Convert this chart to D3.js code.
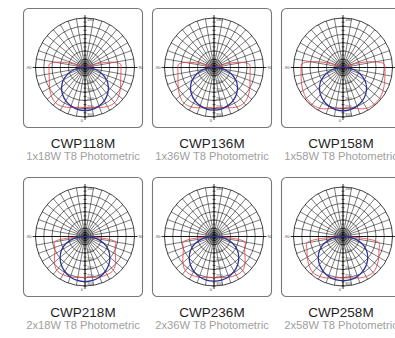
<!DOCTYPE html>
<html>
<head>
<meta charset="utf-8">
<script src="https://cdn.jsdelivr.net/npm/d3@7"></script>
<style>
  body { margin: 0; background: #fff; }
  svg { display: block; }
</style>
</head>
<body>
<svg id="chart" width="395" height="338"></svg>
<script>
// Dados (cd/klm aproximados)
const produtos = ["CWP118M", "CWP136M", "CWP158M", "CWP218M", "CWP236M", "CWP258M"];
const subtitulos = ["1x18W T8 Photometric", "1x36W T8 Photometric", "1x58W T8 Photometric",
                    "2x18W T8 Photometric", "2x36W T8 Photometric", "2x58W T8 Photometric"];
const angulos = [0, 10, 20, 30, 40, 50, 60, 70, 80, 90, 95, 100, 105, 110, 120, 180];
const aneis = [50, 100, 150, 200, 250, 300];

// Plano C0-C180 (vermelho)
const verm118 = [242, 245, 258, 273, 279, 267, 248, 230, 221, 218, 218, 182, 110, 36, 0, 0];
const verm136 = [244, 247, 260, 276, 282, 270, 250, 232, 222, 219, 216, 178, 105, 32, 0, 0];
const verm158 = [245, 250, 266, 285, 292, 290, 280, 268, 258, 254, 250, 200, 120, 40, 0, 0];
const verm218 = [248, 251, 261, 267, 267, 242, 212, 194, 188, 12, 0, 0, 0, 0, 0, 0];
const verm236 = [250, 253, 263, 270, 270, 246, 216, 198, 190, 14, 0, 0, 0, 0, 0, 0];
const verm258 = [250, 255, 268, 280, 284, 270, 250, 232, 222, 20, 0, 0, 0, 0, 0, 0];

// Plano C90-C270 (azul)
const azul118 = [261, 258, 248, 233, 212, 185, 152, 109, 61, 12, 0, 0, 0, 0, 0, 0];
const azul136 = [258, 256, 246, 232, 212, 186, 153, 110, 62, 12, 0, 0, 0, 0, 0, 0];
const azul158 = [262, 259, 249, 234, 213, 186, 152, 109, 61, 12, 0, 0, 0, 0, 0, 0];
const azul218 = [273, 270, 261, 245, 224, 197, 164, 121, 67, 12, 0, 0, 0, 0, 0, 0];
const azul236 = [270, 268, 259, 244, 223, 196, 163, 120, 66, 12, 0, 0, 0, 0, 0, 0];
const azul258 = [268, 266, 257, 242, 222, 196, 163, 120, 66, 12, 0, 0, 0, 0, 0, 0];

const vermelhos = [verm118, verm136, verm158, verm218, verm236, verm258];
const azuis = [azul118, azul136, azul158, azul218, azul236, azul258];

const largura = 395;
const svg = d3.select("#chart");
const passoX = 129, passoY = 169, caixa = 119, x0 = 23, y0 = 8;
const R = 49.5;
const raio = d3.scaleLinear().domain([0, 300]).range([0, R]);
const fonte = "Helvetica, Arial, 'Liberation Sans', sans-serif";

// angulo fotometrico (0 = para baixo) -> angulo do d3 (0 = para cima)
function pontos(valores) {
    const pts = [];
    angulos.forEach((a, i) => pts.push([Math.PI - a * Math.PI / 180, raio(valores[i])]));
    for (let i = angulos.length - 2; i > 0; i--) {
        pts.push([Math.PI + angulos[i] * Math.PI / 180, raio(valores[i])]);
    }
    return pts;
}

const linha = d3.lineRadial()
    .angle(d => d[0])
    .radius(d => d[1])
    .curve(d3.curveCatmullRomClosed.alpha(0.5));

produtos.forEach((nome, i) => {
    const col = i % 3, lin = Math.floor(i / 3);
    const gx = x0 + col * passoX, gy = y0 + lin * passoY;
    const g = svg.append("g").attr("transform", `translate(${gx},${gy})`);

    // Moldura
    g.append("rect")
        .attr("x", 0.5).attr("y", 0.5)
        .attr("width", caixa).attr("height", caixa)
        .attr("rx", 5)
        .attr("fill", "#fff")
        .attr("stroke", "#777")
        .attr("stroke-width", 1.1);

    const cx = 62, cy = 59.5;
    const p = g.append("g").attr("transform", `translate(${cx},${cy})`);

    // Aneis internos (centro denso)
    [R / 24, R / 12, R / 8].forEach(rr => {
        p.append("circle").attr("r", rr)
            .attr("fill", "none").attr("stroke", "#222").attr("stroke-width", 0.5);
    });

    // Aneis principais
    aneis.forEach(v => {
        p.append("circle").attr("r", raio(v))
            .attr("fill", "none").attr("stroke", "#111")
            .attr("stroke-width", v === 300 ? 0.8 : 0.6);
    });

    // Raios a cada 10 graus
    d3.range(0, 360, 10).forEach(a => {
        const t = a * Math.PI / 180;
        p.append("line")
            .attr("x1", 0).attr("y1", 0)
            .attr("x2", R * Math.sin(t)).attr("y2", -R * Math.cos(t))
            .attr("stroke", "#111").attr("stroke-width", 0.55);
    });

    // Eixos e marcas
    p.append("line").attr("x1", -R - 3).attr("x2", R + 3).attr("y1", 0).attr("y2", 0)
        .attr("stroke", "#000").attr("stroke-width", 0.8);
    p.append("line").attr("y1", -R - 3).attr("y2", R + 3).attr("x1", 0).attr("x2", 0)
        .attr("stroke", "#000").attr("stroke-width", 0.8);
    d3.range(25, 301, 25).forEach(v => {
        const d = raio(v);
        [-d, d].forEach(y => {
            p.append("line").attr("x1", -1.5).attr("x2", 1.5).attr("y1", y).attr("y2", y)
                .attr("stroke", "#000").attr("stroke-width", 0.6);
        });
    });

    // Rotulos minusculos
    const rot = (x, y, txt, anc) => {
        if (gx + cx + x + 8 > largura) return; // fora da imagem
        p.append("text")
            .attr("x", x).attr("y", y).attr("text-anchor", anc || "start")
            .attr("font-family", fonte).attr("font-size", 4).attr("fill", "#444")
            .text(txt);
    };
    rot(-R - 4, 1.5, "-90", "end");
    rot(R + 4, 1.5, "90");
    rot(2, -R + 3, "180");
    rot(-2, R + 5, "0", "end");
    aneis.slice(1).forEach(v => rot(2, raio(v) - 1, v));

    // Curvas
    p.append("path").attr("d", linha(pontos(vermelhos[i])))
        .attr("fill", "none").attr("stroke", "#e4454b").attr("stroke-width", 0.85);
    p.append("path").attr("d", linha(pontos(azuis[i])))
        .attr("fill", "none").attr("stroke", "#2e3298").attr("stroke-width", 1.3);

    // Titulos
    g.append("text")
        .attr("x", caixa / 2 + 0.5).attr("y", 140)
        .attr("text-anchor", "middle")
        .attr("font-family", fonte).attr("font-size", 13.5).attr("fill", "#1e1e1e")
        .text(nome);
    g.append("text")
        .attr("x", caixa / 2 + 0.5).attr("y", 152)
        .attr("text-anchor", "middle")
        .attr("font-family", fonte).attr("font-size", 11.2).attr("fill", "#a0a0a0")
        .text(subtitulos[i]);
});
</script>
</body>
</html>
